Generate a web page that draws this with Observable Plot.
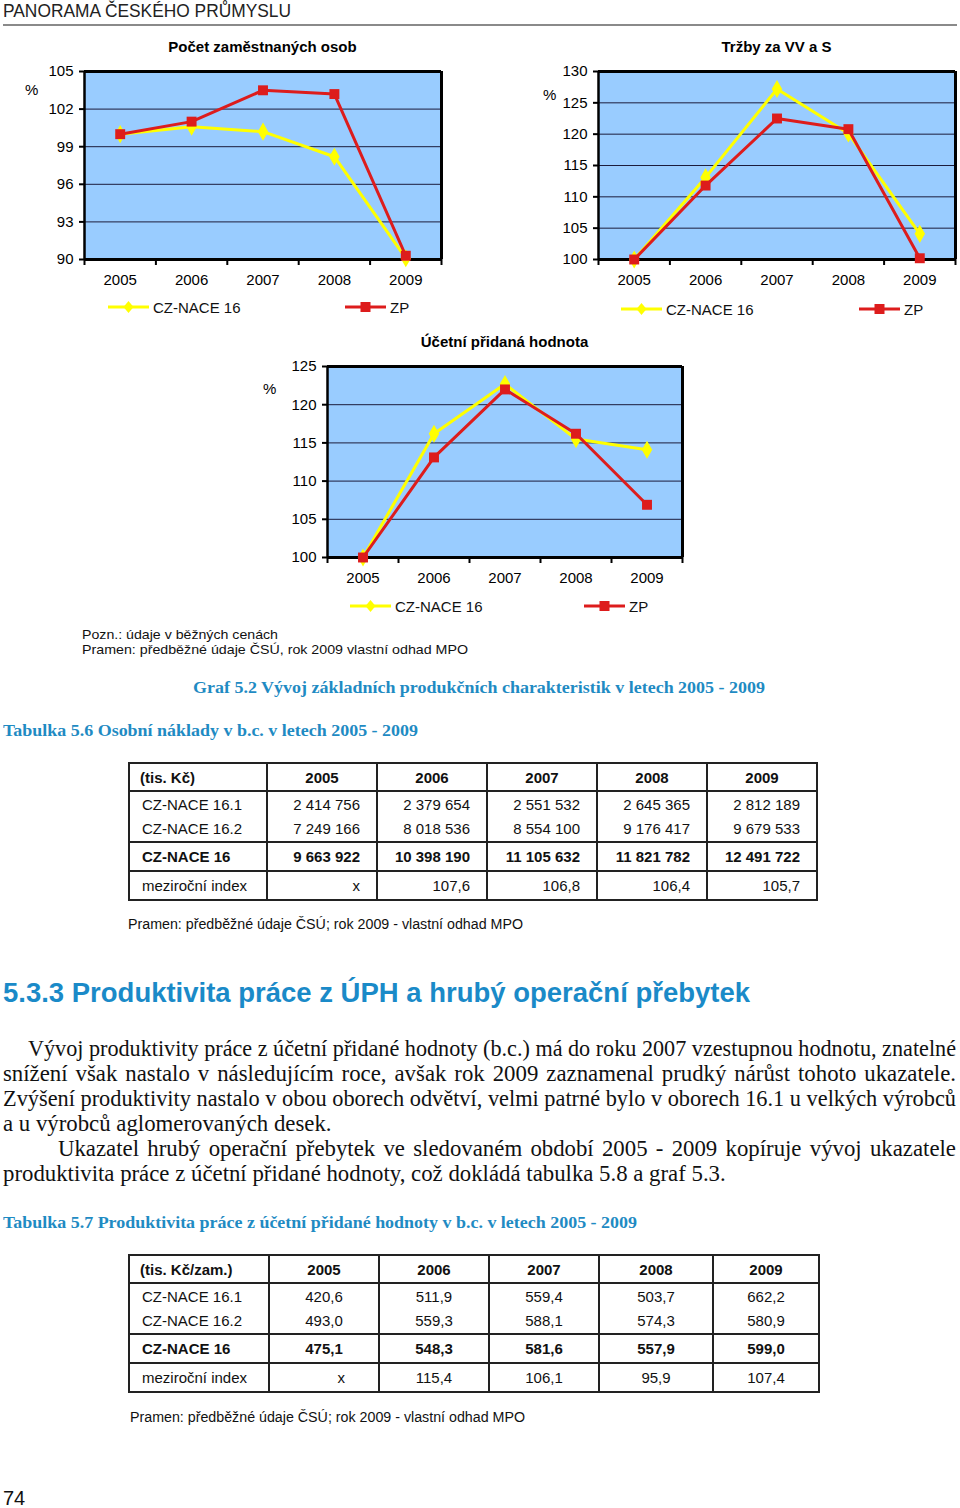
<!DOCTYPE html>
<html><head><meta charset="utf-8">
<script src="https://cdn.jsdelivr.net/npm/d3@7"></script>
<script src="https://cdn.jsdelivr.net/npm/@observablehq/plot@0.6"></script>
<style>
body{margin:0;background:#fff;}
#page{position:relative;width:960px;height:1508px;overflow:hidden;font-family:"Liberation Sans",Arial,sans-serif;color:#111;}
.abs{position:absolute;white-space:nowrap;}
.chart{position:absolute;}
table.t{position:absolute;border-collapse:collapse;font-family:"Liberation Sans",Arial,sans-serif;font-size:15px;color:#111;table-layout:fixed;}
table.t td{border-left:2px solid #222;border-right:2px solid #222;padding:0;white-space:nowrap;line-height:17px;}
</style></head><body><div id="page"></div>
<script>
// ---------- DATA ----------
const years = [2005, 2006, 2007, 2008, 2009];
const seriesNames = ["CZ-NACE 16", "ZP"];

const empTitle = "Počet zaměstnaných osob";
const empNace = [100, 100.6, 100.2, 98.2, 90.1];
const empZP   = [100, 101.0, 103.5, 103.2, 90.3];
const empTicks = [90, 93, 96, 99, 102, 105];

const salesTitle = "Tržby za VV a S";
const salesNace = [100, 113.1, 127.2, 120.1, 104.1];
const salesZP   = [100, 111.8, 122.5, 120.8, 100.2];
const salesTicks = [100, 105, 110, 115, 120, 125, 130];

const vaTitle = "Účetní přidaná hodnota";
const vaNace = [100, 116.2, 122.7, 115.5, 114.1];
const vaZP   = [100, 113.1, 122.0, 116.2, 106.9];
const vaTicks = [100, 105, 110, 115, 120, 125];

const t1Head = ["(tis. Kč)", "2005", "2006", "2007", "2008", "2009"];
const t1Rows = [
  ["CZ-NACE 16.1", "2 414 756", "2 379 654", "2 551 532", "2 645 365", "2 812 189"],
  ["CZ-NACE 16.2", "7 249 166", "8 018 536", "8 554 100", "9 176 417", "9 679 533"],
  ["CZ-NACE 16", "9 663 922", "10 398 190", "11 105 632", "11 821 782", "12 491 722"],
  ["meziroční index", "x", "107,6", "106,8", "106,4", "105,7"]
];
const t2Head = ["(tis. Kč/zam.)", "2005", "2006", "2007", "2008", "2009"];
const t2Rows = [
  ["CZ-NACE 16.1", "420,6", "511,9", "559,4", "503,7", "662,2"],
  ["CZ-NACE 16.2", "493,0", "559,3", "588,1", "574,3", "580,9"],
  ["CZ-NACE 16", "475,1", "548,3", "581,6", "557,9", "599,0"],
  ["meziroční index", "x", "115,4", "106,1", "95,9", "107,4"]
];

const paraLines = [
  "Vývoj produktivity práce z účetní přidané hodnoty (b.c.) má do roku 2007 vzestupnou hodnotu, znatelné",
  "snížení však nastalo v následujícím roce, avšak rok 2009 zaznamenal prudký nárůst tohoto ukazatele.",
  "Zvýšení produktivity nastalo v obou oborech odvětví, velmi patrné bylo v oborech 16.1 u velkých výrobců",
  "a u výrobců aglomerovaných desek.",
  "Ukazatel hrubý operační přebytek ve sledovaném období 2005 - 2009 kopíruje vývoj ukazatele",
  "produktivita práce z účetní přidané hodnoty, což dokládá tabulka 5.8 a graf 5.3."
];

// ---------- HELPERS ----------
const page = document.getElementById("page");
const YEL = "#ffff00", RED = "#dd1c1c", BLUE = "#99ccff";
const SANS = '"Liberation Sans", Arial, sans-serif';
const SERIF = '"Liberation Serif", "Times New Roman", serif';

function txt(str, x, cy, o = {}) {
  const fs = o.fs || 15, lh = Math.round(fs * 1.25);
  const d = document.createElement("div");
  d.className = "abs";
  d.textContent = str;
  d.style.fontSize = fs + "px";
  d.style.lineHeight = lh + "px";
  d.style.fontFamily = o.font || SANS;
  if (o.bold) d.style.fontWeight = "bold";
  d.style.color = o.color || "#111";
  d.style.left = x + "px";
  d.style.top = (cy - lh / 2 + (o.dy || 0)) + "px";
  page.appendChild(d);
  const w = d.getBoundingClientRect().width;
  if (o.center) d.style.left = (x - (o.width || w) / 2) + "px";
  if (o.width && w > 0) {
    d.style.transformOrigin = "left center";
    d.style.transform = `scaleX(${o.width / w})`;
    if (o.center) d.style.left = (x - o.width / 2) + "px";
  }
  if (o.justify && w > 0) {
    const n = (str.match(/ /g) || []).length;
    const target = o.justify;
    if (target > w && n) d.style.wordSpacing = ((target - w) / n) + "px";
    else if (w > target) { d.style.transformOrigin = "left center"; d.style.transform = `scaleX(${target / w})`; }
  }
  return d;
}

function legendItem(x, cy, color, symbol, label) {
  const s = document.createElementNS("http://www.w3.org/2000/svg", "svg");
  s.setAttribute("width", 42); s.setAttribute("height", 14);
  s.style.position = "absolute"; s.style.left = x + "px"; s.style.top = (cy - 7) + "px";
  const mk = symbol === "square"
    ? `<rect x="15.5" y="2" width="10" height="10" fill="${color}"/>`
    : `<path d="M20.5,1 L25.5,7 L20.5,13 L15.5,7 Z" fill="${color}"/>`;
  s.innerHTML = `<line x1="0" y1="7" x2="41" y2="7" stroke="${color}" stroke-width="3"/>` + mk;
  page.appendChild(s);
  txt(label, x + 45, cy, {fs: 15});
}

function chart(o) {
  const rows = years.map((y, i) => ({year: y, nace: o.nace[i], zp: o.zp[i]}));
  const step = years[1] - years[0];
  const x0 = years[0] - step / 2, x1 = years[years.length - 1] + step / 2;
  const bounds = [...years.map(y => y - step / 2), x1];
  const yMin = o.ticks[0], yMax = o.ticks[o.ticks.length - 1];
  const innerH = o.innerH;
  const p = Plot.plot({
    width: o.width, height: 11 + innerH + 40,
    marginLeft: o.mL, marginRight: o.mR, marginTop: 11, marginBottom: 40,
    style: {fontFamily: SANS, fontSize: "15px", background: "transparent", color: "#000", overflow: "visible"},
    x: {type: "linear", domain: [x0, x1], label: null},
    y: {domain: [yMin, yMax], label: null},
    marks: [
      Plot.frame({fill: BLUE, stroke: null}),
      Plot.ruleY(o.ticks, {stroke: "#1c1c3c", strokeWidth: 1}),
      Plot.ruleY([yMax], {stroke: "#000", strokeWidth: 3}),
      Plot.ruleX([x1], {stroke: "#000", strokeWidth: 3}),
      Plot.axisY(o.ticks, {tickSize: 5, tickPadding: 6, strokeWidth: 2, fontSize: 15, fill: "#000"}),
      Plot.axisX(bounds, {tickSize: 6, tickFormat: () => "", strokeWidth: 2}),
      Plot.axisX(years, {tickSize: 0, tickPadding: 15, tickFormat: d => String(d), fontSize: 15, fill: "#000"}),
      Plot.ruleX([x0], {stroke: "#000", strokeWidth: 2.5}),
      Plot.ruleY([yMin], {stroke: "#000", strokeWidth: 3}),
      Plot.lineY(rows, {x: "year", y: "nace", stroke: YEL, strokeWidth: 3}),
      Plot.dot(rows, {x: "year", y: "nace", symbol: "diamond", r: 5.5, fill: YEL}),
      Plot.lineY(rows, {x: "year", y: "zp", stroke: RED, strokeWidth: 3}),
      Plot.dot(rows, {x: "year", y: "zp", symbol: "square", r: 5.6, fill: RED})
    ]
  });
  p.classList.add("chart");
  p.style.left = o.left + "px";
  p.style.top = o.top + "px";
  page.appendChild(p);
  const cx = o.left + o.mL + (o.width - o.mL - o.mR) / 2;
  txt(o.title, cx, o.titleY, {fs: 15, bold: true, center: true, color: "#000"});
  txt("%", o.pctX, o.pctY, {fs: 15, color: "#000"});
  legendItem(o.leg[0], o.legY, YEL, "diamond", seriesNames[0]);
  legendItem(o.leg[1], o.legY, RED, "square", seriesNames[1]);
}

// ---------- HEADER ----------
txt("PANORAMA ČESKÉHO PRŮMYSLU", 3, 11, {fs: 18, width: 288, color: "#222"});
{
  const l = document.createElement("div");
  l.style.cssText = "position:absolute;left:3px;top:24px;width:954px;height:2px;background:#8a8a8a;";
  page.appendChild(l);
}

// ---------- CHARTS ----------
chart({title: empTitle, nace: empNace, zp: empZP, ticks: empTicks,
  left: 0, top: 60, width: 460, mL: 84, mR: 19, innerH: 188,
  titleY: 46, pctX: 25, pctY: 89, leg: [108, 345], legY: 307});
chart({title: salesTitle, nace: salesNace, zp: salesZP, ticks: salesTicks,
  left: 500, top: 60, width: 460, mL: 98, mR: 5, innerH: 188,
  titleY: 46, pctX: 543, pctY: 94, leg: [621, 859], legY: 309});
chart({title: vaTitle, nace: vaNace, zp: vaZP, ticks: vaTicks,
  left: 240, top: 355, width: 460, mL: 87, mR: 18, innerH: 191,
  titleY: 341, pctX: 263, pctY: 388, leg: [350, 584], legY: 606});

// ---------- NOTES & CAPTIONS ----------
txt("Pozn.: údaje v běžných cenách", 82, 634, {fs: 13.5, width: 196});
txt("Pramen: předběžné údaje ČSÚ, rok 2009 vlastní odhad MPO", 82, 649, {fs: 13.5, width: 386});
const CAP = "#1f8bc3";
txt("Graf 5.2 Vývoj základních produkčních charakteristik v letech 2005 - 2009", 193, 687, {fs: 17.5, bold: true, font: SERIF, color: CAP, width: 572});
txt("Tabulka 5.6 Osobní náklady v b.c. v letech 2005 - 2009", 3, 730, {fs: 17.5, bold: true, font: SERIF, color: CAP, width: 415});

// ---------- TABLES ----------
function table(head, rows, left, top, colW, align) {
  const t = document.createElement("table");
  t.className = "t";
  t.style.left = left + "px"; t.style.top = top + "px";
  const cg = document.createElement("colgroup");
  colW.forEach(w => { const c = document.createElement("col"); c.style.width = w + "px"; cg.appendChild(c); });
  t.appendChild(cg);
  const heights = [26, 24, 25, 27, 27];
  const all = [head, ...rows];
  all.forEach((r, ri) => {
    const tr = document.createElement("tr");
    r.forEach((v, ci) => {
      const td = document.createElement("td");
      td.textContent = v;
      td.style.height = heights[ri] + "px";
      td.style.borderTop = ri === 2 ? "none" : "2px solid #222";
      td.style.borderBottom = ri === 1 ? "none" : "2px solid #222";
      if (ri === 0 || ri === 3) td.style.fontWeight = "bold";
      if (ci === 0) { td.style.textAlign = "left"; td.style.paddingLeft = (ri === 0 ? 10 : 12) + "px"; }
      else if (ri === 0) td.style.textAlign = "center";
      else align(td, ri, ci, v);
      tr.appendChild(td);
    });
    t.appendChild(tr);
  });
  page.appendChild(t);
}
table(t1Head, t1Rows, 128, 762, [138, 110, 110, 110, 110, 110], (td) => {
  td.style.textAlign = "right"; td.style.paddingRight = "16px";
});
txt("Pramen: předběžné údaje ČSÚ; rok 2009 - vlastní odhad MPO", 128, 924, {fs: 14, width: 395});

// ---------- SECTION ----------
txt("5.3.3 Produktivita práce z ÚPH a hrubý operační přebytek", 3, 993, {fs: 27, bold: true, color: "#1a8ac8", width: 747});
const lineX = [28, 3, 3, 3, 58, 3];
const lineJust = [true, true, true, false, true, false];
paraLines.forEach((s, i) => {
  txt(s, lineX[i], 1048 + i * 25, {fs: 22.8, font: SERIF, color: "#111", justify: lineJust[i] ? 956 - lineX[i] : 0});
});
txt("Tabulka 5.7 Produktivita práce z účetní přidané hodnoty v b.c. v letech 2005 - 2009", 3, 1222, {fs: 17.5, bold: true, font: SERIF, color: CAP, width: 634});

table(t2Head, t2Rows, 128, 1254, [140, 110, 110, 110, 114, 106], (td, ri, ci, v) => {
  if (v === "x") { td.style.textAlign = "right"; td.style.paddingRight = "33px"; }
  else td.style.textAlign = "center";
});
txt("Pramen: předběžné údaje ČSÚ; rok 2009 - vlastní odhad MPO", 130, 1417, {fs: 14, width: 395});

txt("74", 3, 1498, {fs: 20, color: "#111"});
</script></body></html>
